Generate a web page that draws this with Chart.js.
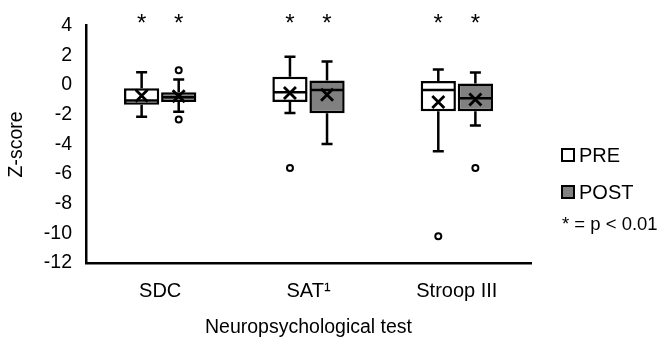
<!DOCTYPE html>
<html>
<head>
<meta charset="utf-8">
<script src="https://cdn.jsdelivr.net/npm/chart.js@4.4.1/dist/chart.umd.min.js"></script>
<style>
  html, body { margin: 0; padding: 0; background: #fff; }
  #wrap { width: 662px; height: 339px; position: relative; }
</style>
</head>
<body>
<div id="wrap"><canvas id="boxChart" width="662" height="339"></canvas></div>
<script>
// Test names and y-axis range
const categories = ['SDC', 'SAT\u00B9', 'Stroop III'];
const yMin = -12;
const yMax = 4;
const yStep = 2;

// PRE box statistics
const preMin = [-2.14, -1.88, -4.47];
const preQ1 = [-1.33, -1.15, -1.77];
const preMedian = [-1.04, -0.49, -0.34];
const preQ3 = [-0.21, 0.56, 0.27];
const preMax = [0.86, 1.91, 1.04];
const preMean = [-0.72, -0.54, -1.15];
const preOutliers = [[], [-5.6], [-10.2]];

// POST box statistics
const postMin = [-1.81, -3.98, -2.73];
const postQ1 = [-1.15, -1.90, -1.77];
const postMedian = [-0.82, -0.34, -0.89];
const postQ3 = [-0.49, 0.30, 0.10];
const postMax = [0.38, 1.59, 0.84];
const postMean = [-0.75, -0.65, -0.98];
const postOutliers = [[1.0, -2.32], [], [-5.6]];

// significance markers per box
const preSignificant = [true, true, true];
const postSignificant = [true, true, true];
const noteText = '* = p < 0.01';

const FONT = "'Liberation Sans', Arial, sans-serif";
const stats = [
  { min: preMin, q1: preQ1, med: preMedian, q3: preQ3, max: preMax, mean: preMean, out: preOutliers, sig: preSignificant },
  { min: postMin, q1: postQ1, med: postMedian, q3: postQ3, max: postMax, mean: postMean, out: postOutliers, sig: postSignificant }
];

// Draws whiskers, medians, means, outliers, asterisks and the legend
const boxExtras = {
  id: 'boxExtras',
  afterDatasetsDraw(chart) {
    const ctx = chart.ctx;
    const y = chart.scales.y;
    ctx.save();
    ctx.strokeStyle = '#000';
    ctx.lineCap = 'butt';
    stats.forEach((s, d) => {
      const meta = chart.getDatasetMeta(d);
      meta.data.forEach((bar, i) => {
        const cx = bar.x;
        const half = bar.width / 2;
        const cap = 5.5;
        ctx.lineWidth = 2.5;
        // whiskers
        ctx.beginPath();
        ctx.moveTo(cx, y.getPixelForValue(s.q3[i]));
        ctx.lineTo(cx, y.getPixelForValue(s.max[i]));
        ctx.moveTo(cx - cap, y.getPixelForValue(s.max[i]));
        ctx.lineTo(cx + cap, y.getPixelForValue(s.max[i]));
        ctx.moveTo(cx, y.getPixelForValue(s.q1[i]));
        ctx.lineTo(cx, y.getPixelForValue(s.min[i]));
        ctx.moveTo(cx - cap, y.getPixelForValue(s.min[i]));
        ctx.lineTo(cx + cap, y.getPixelForValue(s.min[i]));
        ctx.stroke();
        // median
        ctx.beginPath();
        ctx.moveTo(cx - half + 1, y.getPixelForValue(s.med[i]));
        ctx.lineTo(cx + half - 1, y.getPixelForValue(s.med[i]));
        ctx.stroke();
        // mean cross
        const my = y.getPixelForValue(s.mean[i]);
        const r = 6;
        ctx.lineWidth = 2.8;
        ctx.beginPath();
        ctx.moveTo(cx - r, my - r);
        ctx.lineTo(cx + r, my + r);
        ctx.moveTo(cx + r, my - r);
        ctx.lineTo(cx - r, my + r);
        ctx.stroke();
        // outliers
        ctx.lineWidth = 2;
        ctx.fillStyle = '#fff';
        s.out[i].forEach(v => {
          ctx.beginPath();
          ctx.arc(cx, y.getPixelForValue(v), 3, 0, Math.PI * 2);
          ctx.fill();
          ctx.stroke();
        });
        // significance asterisk
        if (s.sig[i]) {
          ctx.fillStyle = '#000';
          ctx.font = '24px ' + FONT;
          ctx.textAlign = 'center';
          ctx.textBaseline = 'alphabetic';
          ctx.fillText('*', cx, y.getPixelForValue(yMax) + 5);
        }
      });
    });

    // legend on the right
    const lx = 561;
    const items = [
      { label: 'PRE', fill: chart.data.datasets[0].backgroundColor, cy: 155 },
      { label: 'POST', fill: chart.data.datasets[1].backgroundColor, cy: 192 }
    ];
    items.forEach(it => {
      ctx.fillStyle = it.fill;
      ctx.fillRect(lx, it.cy - 7, 14, 14);
      ctx.lineWidth = 2;
      ctx.strokeStyle = '#000';
      ctx.strokeRect(lx + 1, it.cy - 6, 12, 12);
      ctx.fillStyle = '#000';
      ctx.font = '20px ' + FONT;
      ctx.textAlign = 'left';
      ctx.textBaseline = 'middle';
      ctx.fillText(it.label, lx + 18, it.cy + 1);
    });
    ctx.font = '18.5px ' + FONT;
    ctx.fillText(noteText, 562, 225);
    ctx.restore();
  }
};

const ctx = document.getElementById('boxChart').getContext('2d');
new Chart(ctx, {
  type: 'bar',
  data: {
    labels: categories,
    datasets: [
      {
        label: 'PRE',
        data: categories.map((c, i) => [preQ1[i], preQ3[i]]),
        backgroundColor: '#ffffff',
        borderColor: '#000000',
        borderWidth: 2.5,
        borderSkipped: false,
        barPercentage: 0.95,
        categoryPercentage: 0.5
      },
      {
        label: 'POST',
        data: categories.map((c, i) => [postQ1[i], postQ3[i]]),
        backgroundColor: '#808080',
        borderColor: '#000000',
        borderWidth: 2.5,
        borderSkipped: false,
        barPercentage: 0.95,
        categoryPercentage: 0.5
      }
    ]
  },
  options: {
    responsive: false,
    animation: false,
    layout: { padding: { left: 0, top: 20, right: 131, bottom: 0 } },
    plugins: {
      legend: { display: false },
      tooltip: { enabled: false }
    },
    scales: {
      x: {
        grid: { display: false, drawTicks: false },
        border: { display: true, color: '#000', width: 2.5 },
        ticks: { color: '#000', padding: 16, font: { family: FONT, size: 20 } },
        title: {
          display: true,
          text: 'Neuropsychological test',
          color: '#000',
          padding: { top: 0, bottom: 0 },
          font: { family: FONT, size: 19.5 }
        },
        afterFit: scale => { scale.height = 76; }
      },
      y: {
        min: yMin,
        max: yMax,
        grid: { display: false, drawTicks: false },
        border: { display: true, color: '#000', width: 2.5 },
        ticks: { stepSize: yStep, color: '#000', padding: 14, font: { family: FONT, size: 19.5 } },
        title: {
          display: true,
          text: 'Z-score',
          color: '#000',
          padding: { top: 5, bottom: 0 },
          font: { family: FONT, size: 19.5 }
        },
        afterFit: scale => { scale.width = 86; }
      }
    }
  },
  plugins: [boxExtras]
});
</script>
</body>
</html>
